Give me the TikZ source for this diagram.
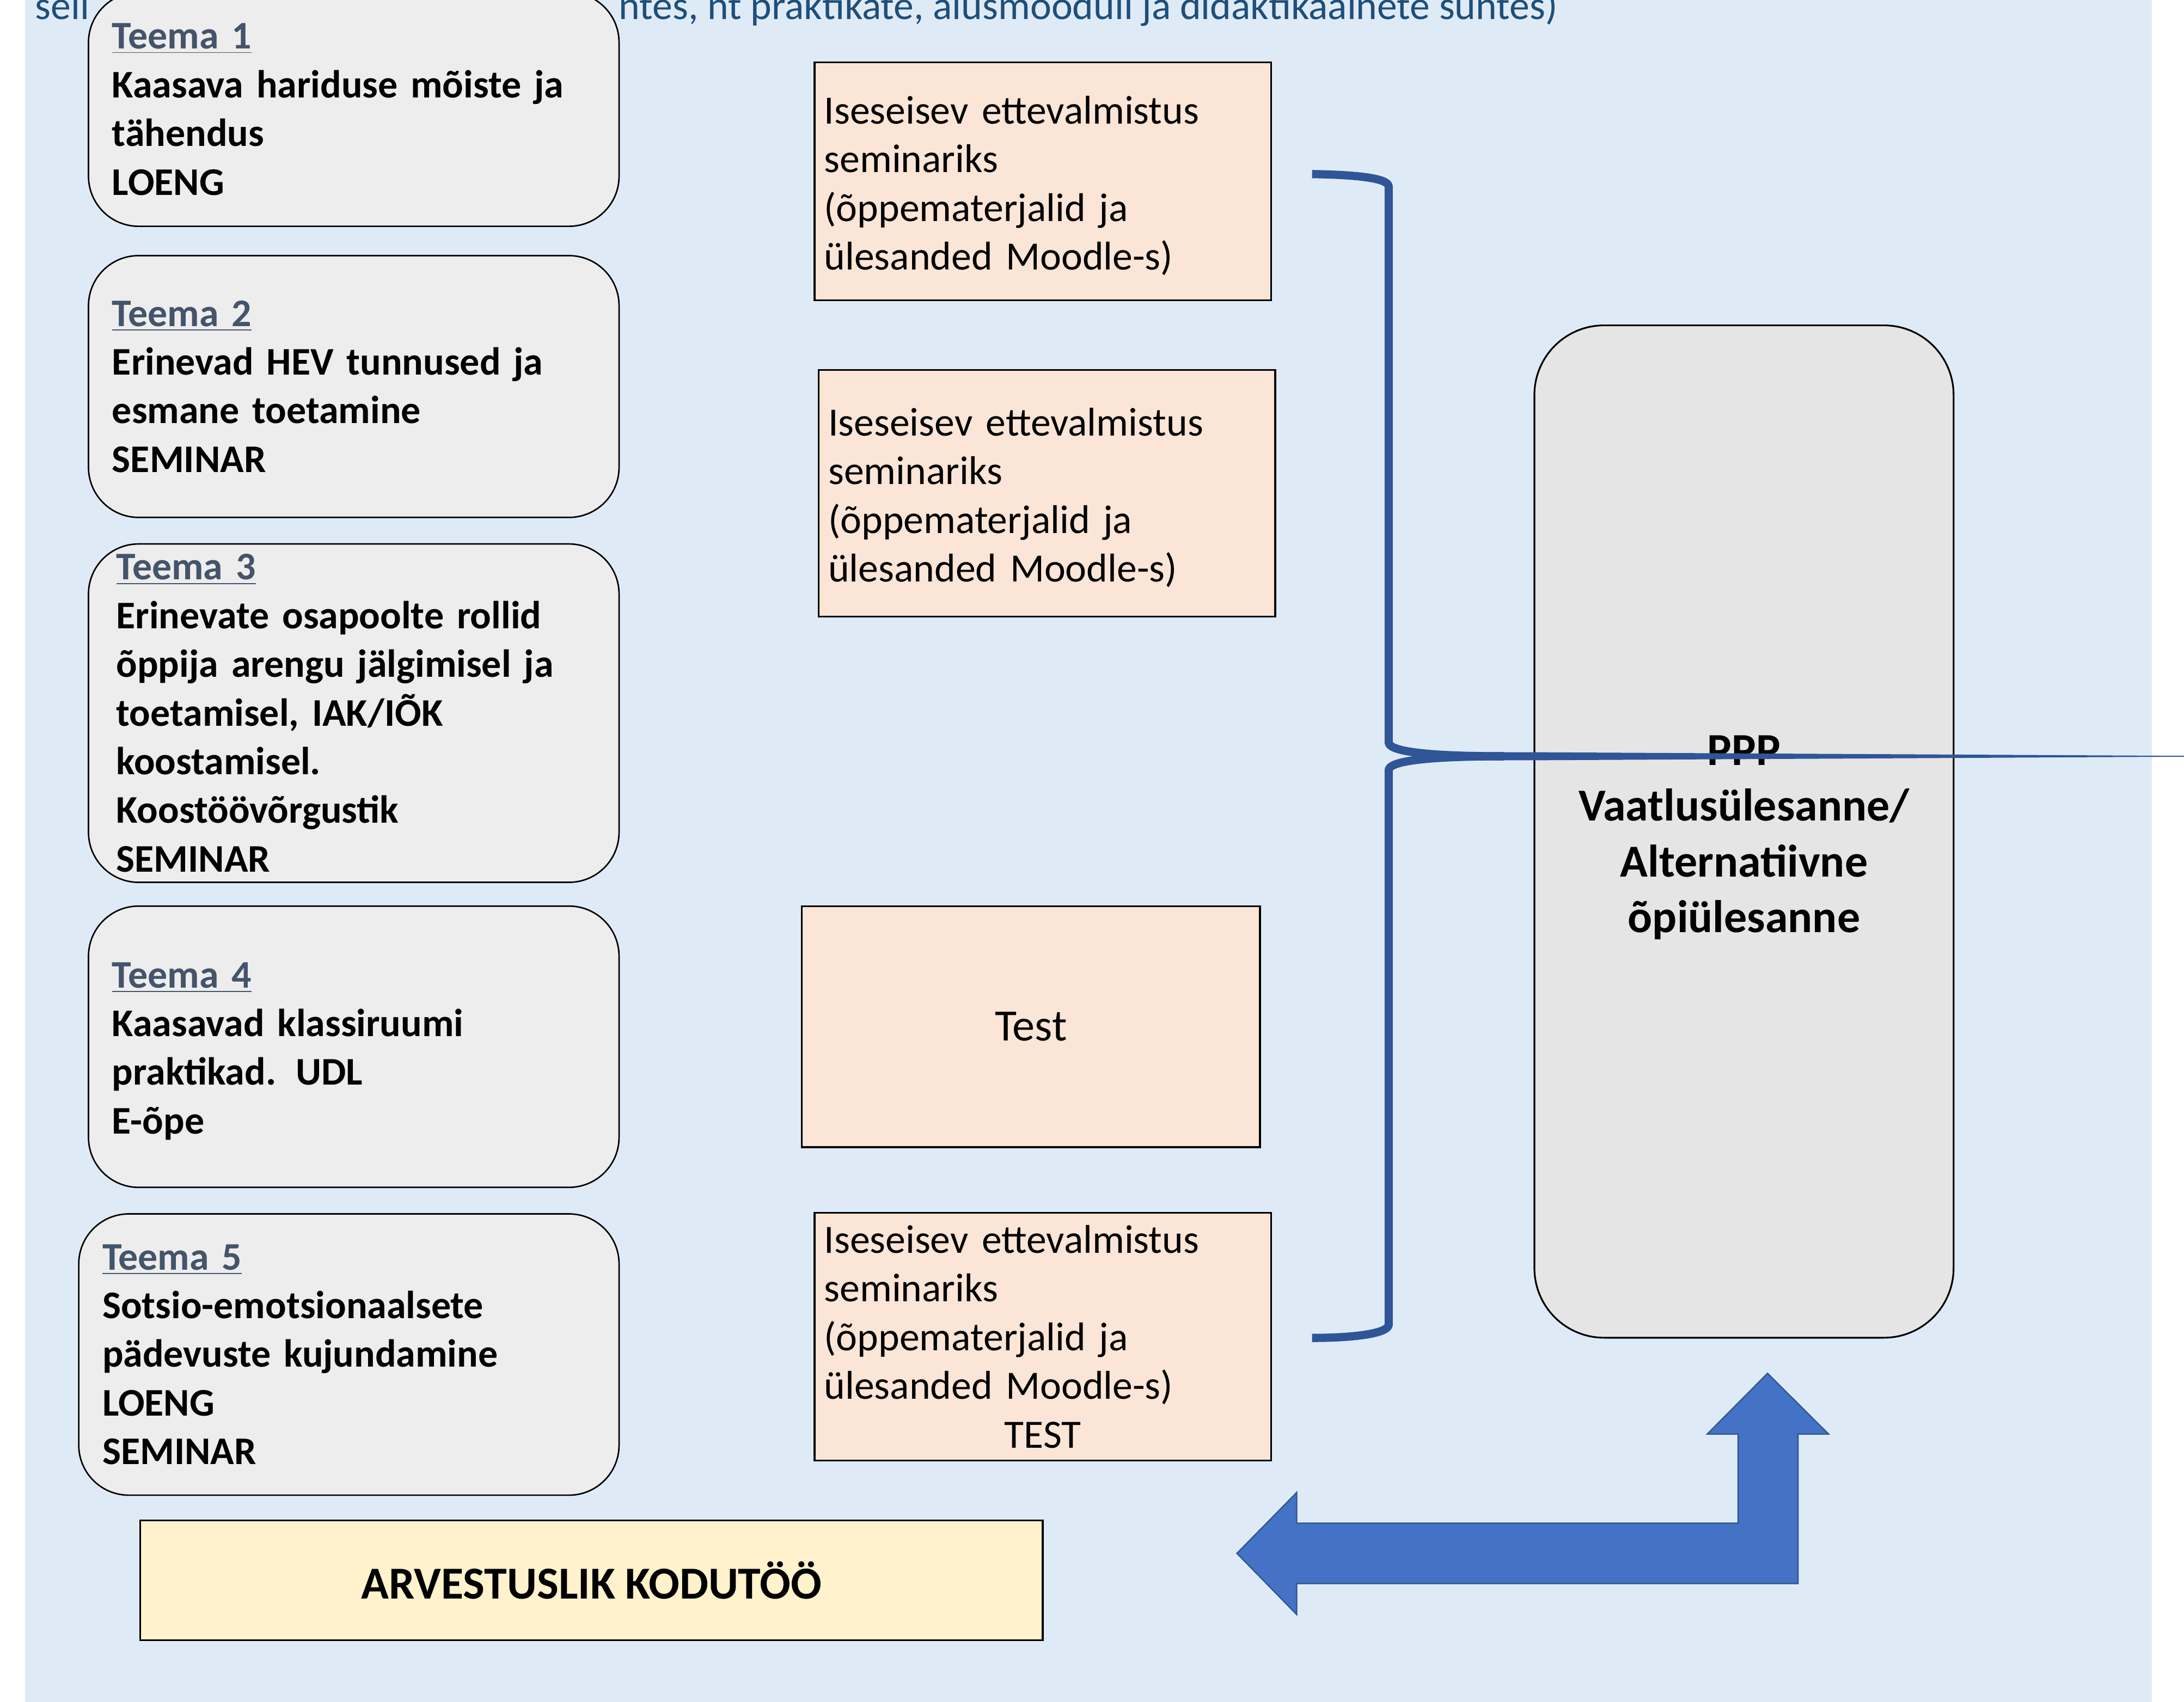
\documentclass[tikz,border=0pt]{standalone}
\usepackage{fontspec}
\setmainfont{Carlito}
\usepackage{xcolor}
\usepackage{tikz}
\usetikzlibrary{positioning}
\definecolor{slideBg}{HTML}{DEEBF7}
\definecolor{teemaFill}{HTML}{EDEDED}
\definecolor{teemaHead}{HTML}{44546A}
\definecolor{prepFill}{HTML}{FBE5D6}
\definecolor{koduFill}{HTML}{FFF2CC}
\definecolor{pppFill}{HTML}{E5E5E5}
\definecolor{braceBlue}{HTML}{2F5597}
\definecolor{arrowBlue}{HTML}{4472C4}
\definecolor{arrowEdge}{HTML}{2F528F}
\definecolor{noteBlue}{HTML}{1F4E79}
\tikzset{
    note/.style={inner sep=0pt, anchor=base west, text=noteBlue, font=\fontsize{16.4pt}{19.9pt}\selectfont},
    teema/.style={rectangle, rounded corners=0.72cm, draw=black, line width=0.6pt, fill=teemaFill, align=left, anchor=north west, inner xsep=0.34cm, inner ysep=0pt, minimum width=7.62cm, text width=6.94cm, font=\fontsize{16pt}{19.9pt}\selectfont\bfseries},
    prep/.style={rectangle, draw=black, line width=0.8pt, fill=prepFill, align=left, anchor=north west, inner xsep=0.14cm, inner ysep=0pt, minimum width=6.56cm, text width=6.28cm, font=\fontsize{16.4pt}{19.9pt}\selectfont},
    kodu/.style={rectangle, draw=black, line width=0.8pt, fill=koduFill, align=center, anchor=north west, minimum width=12.96cm, minimum height=1.72cm, font=\fontsize{18.7pt}{22.8pt}\selectfont\bfseries},
    ppp/.style={rectangle, rounded corners=1cm, draw=black, line width=0.7pt, fill=pppFill, align=center, anchor=north west, minimum width=6.02cm, minimum height=14.54cm, font=\fontsize{18.7pt}{22.8pt}\selectfont\bfseries},
    brace/.style={draw=braceBlue, line width=0.118cm, line join=round},
    bigarrow/.style={fill=arrowBlue, draw=arrowEdge, line width=0.5pt, line join=miter}
}
\begin{document}
\begin{tikzpicture}[x=0.02cm, y=-0.02cm]
        \useasboundingbox (0,0) rectangle (1568,1222);
        \clip (0,0) rectangle (1568,1222);

        % Slide background
        \fill[slideBg] (18,0) rectangle (1545,1222);

        % Heading line, cut at the top and hidden behind Teema 1
        \node[note] (noteL) at (25,14) {seli};
        \node[note] (noteR) at (444,14) {ntes, nt praktikate, alusmooduli ja didaktikaainete suntes)};

        % Teema boxes
        \node[teema, minimum height=3.36cm] (t1) at (63,-6) {\textcolor{teemaHead}{\underline{Teema 1}}\\Kaasava hariduse mõiste ja\\tähendus\\LOENG};
        \node[teema, minimum height=3.76cm, below=0.40cm of t1.south west, anchor=north west] (t2) {\textcolor{teemaHead}{\underline{Teema 2}}\\Erinevad HEV tunnused ja\\esmane toetamine\\SEMINAR};
        \node[teema, minimum height=4.86cm, inner xsep=0.4cm, text width=6.82cm, below=0.36cm of t2.south west, anchor=north west] (t3) {\textcolor{teemaHead}{\underline{Teema 3}}\\Erinevate osapoolte rollid\\õppija arengu jälgimisel ja\\toetamisel, IAK/IÕK\\koostamisel.\\Koostöövõrgustik\\SEMINAR};
        \node[teema, minimum height=4.04cm, below=0.32cm of t3.south west, anchor=north west] (t4) {\rule{0pt}{14pt}\textcolor{teemaHead}{\underline{Teema 4}}\\Kaasavad klassiruumi\\praktikad. UDL\\E-õpe};
        \node[teema, minimum height=4.04cm, minimum width=7.76cm, text width=7.08cm, below=0.36cm of t4.south west, anchor=north west, xshift=-0.14cm] (t5) {\textcolor{teemaHead}{\underline{Teema 5}}\\Sotsio-emotsionaalsete\\pädevuste kujundamine\\LOENG\\SEMINAR};

        % Iseseisev ettevalmistus
        \node[prep, minimum height=3.42cm] (p1) at (584,44) {\rule{0pt}{15pt}Iseseisev ettevalmistus\\seminariks\\(õppematerjalid ja\\ülesanded Moodle-s)};
        \node[prep, minimum height=3.54cm] (p2) at (587,265) {\rule{0pt}{15pt}Iseseisev ettevalmistus\\seminariks\\(õppematerjalid ja\\ülesanded Moodle-s)};
        \node[prep, minimum height=3.46cm, minimum width=6.58cm, align=center, font=\fontsize{18.3pt}{22pt}\selectfont] (p3) at (575,650) {Test};
        \node[prep, minimum height=3.56cm] (p4) at (584,870) {Iseseisev ettevalmistus\\seminariks\\(õppematerjalid ja\\ülesanded Moodle-s)\\\makebox[\linewidth]{TEST}};

        % Kodutoo
        \node[kodu] (kodu) at (100,1091) {ARVESTUSLIK KODUTÖÖ};

        % PPP
        \node[ppp] (ppp) at (1101,233) {\rule{0pt}{17pt}PPP\\Vaatlusülesanne/\\Alternatiivne\\õpiülesanne};

        % Brace with long tip
        \coordinate (braceTop) at (942,125);
        \coordinate (braceBot) at (942,960.6);
        \coordinate (braceTip) at (1080,543);
        \draw[brace] (braceTop) .. controls (975,125.5) and (997,128) .. (997,134) -- (997,533) .. controls (997,539) and (1020,543) .. (braceTip);
        \draw[brace] (braceTip) .. controls (1020,543) and (997,547) .. (997,553) -- (997,951) .. controls (997,957) and (975,960.6) .. (braceBot);
        \fill[braceBlue] (1030,540.1) -- (1100,540.1) -- (1568,542.7) -- (1568,543.3) -- (1100,545.9) -- (1030,545.9) -- cycle;

        % Bent arrow
        \filldraw[bigarrow] (888,1115.3) -- (931,1071.5) -- (931,1093.6) -- (1247.8,1093.6) -- (1247.8,1029.7) -- (1225.6,1029.7) -- (1269,986) -- (1312.9,1029.7) -- (1290.9,1029.7) -- (1290.9,1137) -- (931,1137) -- (931,1159.3) -- cycle;
    \end{tikzpicture}
\end{document}
